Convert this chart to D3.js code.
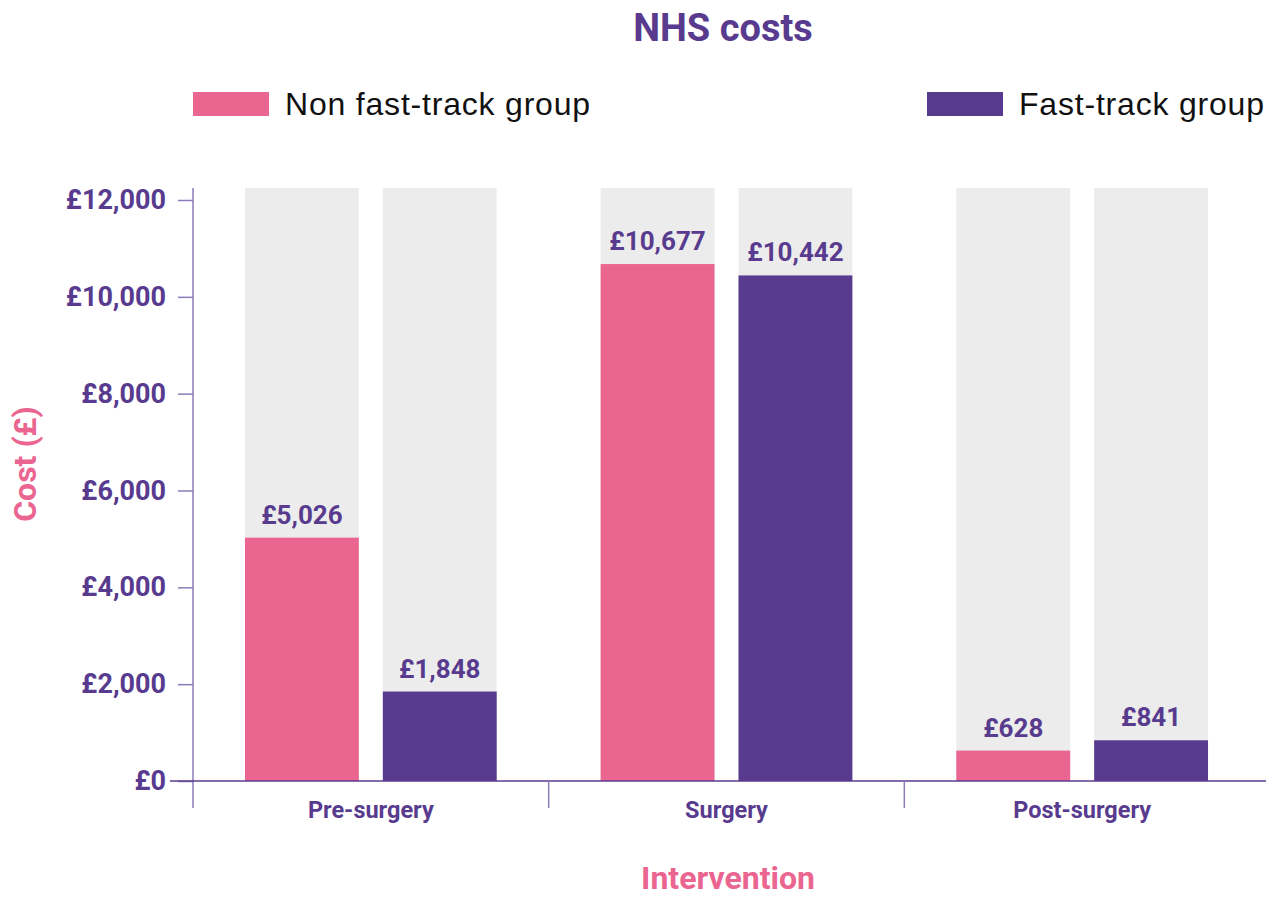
<!DOCTYPE html>
<html>
<head>
<meta charset="utf-8">
<script src="https://cdn.jsdelivr.net/npm/d3@7"></script>
<style>
  body { margin: 0; background: #fff; }
  svg { display: block; }
</style>
</head>
<body>
<svg id="chart" width="1274" height="897"></svg>
<script>
const categories = ["Pre-surgery", "Surgery", "Post-surgery"];
const series = ["Non fast-track group", "Fast-track group"];
const nonFastTrack = [5026, 10677, 628];
const fastTrack = [1848, 10442, 841];
const yTicks = [0, 2000, 4000, 6000, 8000, 10000, 12000];

const PINK = "#ea6690";
const PURPLE = "#583b8e";
const GREY = "#ececec";
const AXIS_LIGHT = "#8d7bbb";

const svg = d3.select("#chart");

const PLOT_LEFT = 193, PLOT_RIGHT = 1260, PLOT_TOP = 188, PLOT_BOTTOM = 781;

const y = d3.scaleLinear().domain([0, 12000]).range([PLOT_BOTTOM, 200]);
const x0 = d3.scaleBand().domain(categories).range([PLOT_LEFT, PLOT_RIGHT]);
const x1 = d3.scaleBand().domain(series).range([0, x0.bandwidth()])
    .paddingInner(0.174).paddingOuter(0.377);
const color = d3.scaleOrdinal().domain(series).range([PINK, PURPLE]);

const rows = categories.map((c, i) => ({
    category: c,
    values: [
        { key: series[0], value: nonFastTrack[i] },
        { key: series[1], value: fastTrack[i] }
    ]
}));

// title
svg.append("text")
    .attr("x", 723).attr("y", 41)
    .attr("text-anchor", "middle")
    .attr("font-family", "Roboto, sans-serif")
    .attr("font-weight", "bold")
    .attr("font-size", 38)
    .attr("fill", PURPLE)
    .text("NHS costs");

// legend
const legendPos = [193, 927];
series.forEach((s, i) => {
    const g = svg.append("g").attr("transform", `translate(${legendPos[i]}, 92)`);
    g.append("rect").attr("width", 76).attr("height", 24).attr("fill", color(s));
    g.append("text")
        .attr("x", 92).attr("y", 23)
        .attr("font-family", "'Liberation Sans', Arial, sans-serif")
        .attr("font-size", 32)
        .attr("letter-spacing", 0.8)
        .attr("fill", "#111")
        .text(s);
});

// groups
const groups = svg.append("g").selectAll("g").data(rows).join("g")
    .attr("transform", (d) => `translate(${x0(d.category)}, 0)`);

groups.selectAll(".bg").data((d) => d.values).join("rect")
    .attr("class", "bg")
    .attr("x", (d) => x1(d.key))
    .attr("y", PLOT_TOP)
    .attr("width", x1.bandwidth())
    .attr("height", PLOT_BOTTOM - PLOT_TOP)
    .attr("fill", GREY);

groups.selectAll(".bar").data((d) => d.values).join("rect")
    .attr("class", "bar")
    .attr("x", (d) => x1(d.key))
    .attr("y", (d) => y(d.value))
    .attr("width", x1.bandwidth())
    .attr("height", (d) => PLOT_BOTTOM - y(d.value))
    .attr("fill", (d) => color(d.key));

groups.selectAll(".val").data((d) => d.values).join("text")
    .attr("class", "val")
    .attr("x", (d) => x1(d.key) + x1.bandwidth() / 2)
    .attr("y", (d) => y(d.value) - 14)
    .attr("text-anchor", "middle")
    .attr("font-family", "Roboto, sans-serif")
    .attr("font-weight", "bold")
    .attr("font-size", 26)
    .attr("fill", PURPLE)
    .text((d) => "£" + d3.format(",")(d.value));

// y axis
const yAxis = svg.append("g")
    .attr("transform", `translate(${PLOT_LEFT}, 0)`)
    .call(d3.axisLeft(y).tickValues(yTicks).tickSize(15).tickPadding(12)
        .tickFormat((d) => "£" + d3.format(",")(d)));
yAxis.select(".domain").remove();
yAxis.selectAll(".tick line").attr("stroke", AXIS_LIGHT).attr("stroke-width", 1.5);
yAxis.selectAll(".tick text")
    .attr("font-family", "Roboto, sans-serif")
    .attr("font-weight", "bold")
    .attr("font-size", 27)
    .attr("fill", PURPLE);
svg.append("line")
    .attr("x1", PLOT_LEFT).attr("x2", PLOT_LEFT)
    .attr("y1", PLOT_TOP).attr("y2", 808)
    .attr("stroke", AXIS_LIGHT).attr("stroke-width", 1.5);

// x axis
svg.append("line")
    .attr("x1", 170).attr("x2", 1266)
    .attr("y1", PLOT_BOTTOM).attr("y2", PLOT_BOTTOM)
    .attr("stroke", PURPLE).attr("stroke-width", 1.5);
svg.append("g").selectAll("line").data(categories.slice(1)).join("line")
    .attr("x1", (d) => x0(d)).attr("x2", (d) => x0(d))
    .attr("y1", PLOT_BOTTOM).attr("y2", 808)
    .attr("stroke", AXIS_LIGHT).attr("stroke-width", 1.5);
svg.append("g").selectAll("text").data(categories).join("text")
    .attr("x", (d) => x0(d) + x0.bandwidth() / 2)
    .attr("y", 818)
    .attr("text-anchor", "middle")
    .attr("font-family", "Roboto, sans-serif")
    .attr("font-weight", "bold")
    .attr("font-size", 23.5)
    .attr("fill", PURPLE)
    .text((d) => d);

// axis titles
svg.append("text")
    .attr("x", 728).attr("y", 889)
    .attr("text-anchor", "middle")
    .attr("font-family", "Roboto, sans-serif")
    .attr("font-weight", "bold")
    .attr("font-size", 32)
    .attr("fill", PINK)
    .text("Intervention");
svg.append("text")
    .attr("transform", "translate(36, 464) rotate(-90)")
    .attr("text-anchor", "middle")
    .attr("font-family", "Roboto, sans-serif")
    .attr("font-weight", "bold")
    .attr("font-size", 32)
    .attr("fill", PINK)
    .text("Cost (£)");
</script>
</body>
</html>
